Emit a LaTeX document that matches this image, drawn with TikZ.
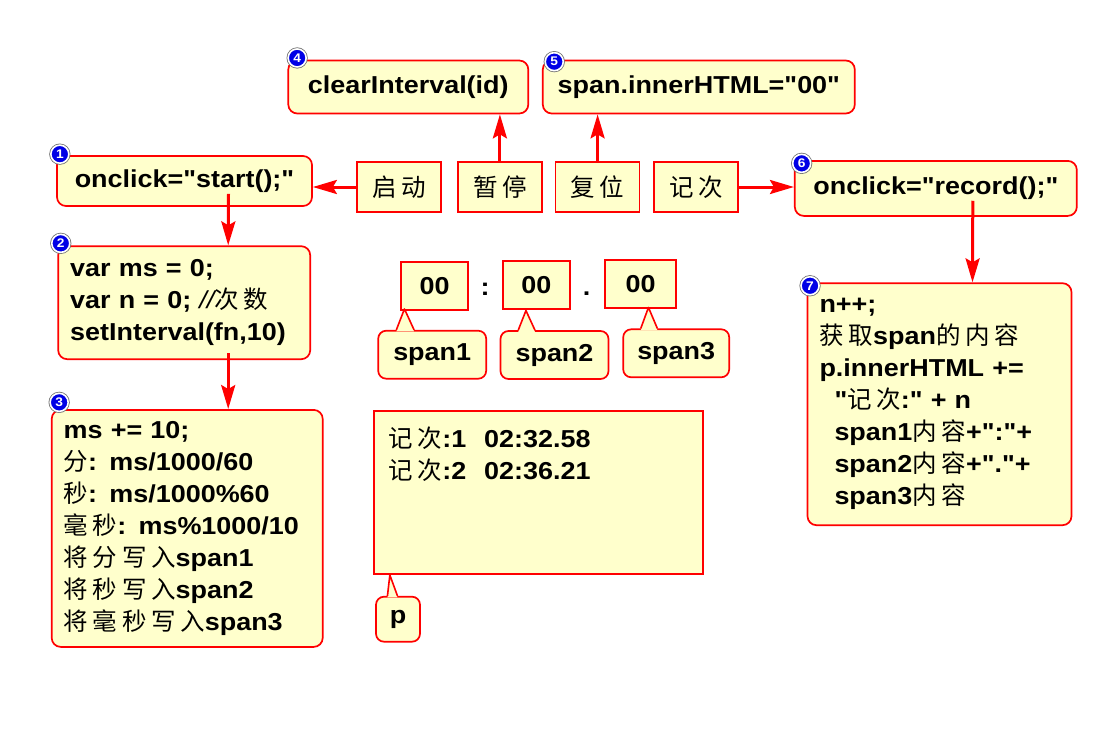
\documentclass[tikz,border=0pt]{standalone}
\usepackage{fontspec}
\newfontfamily\lat[FakeStretch=1.1]{Liberation Sans}
\newfontfamily\cjk[Scale=1.0,LetterSpace=19]{Noto Sans CJK SC}
\usetikzlibrary{positioning}
\usetikzlibrary{arrows.meta}
\usetikzlibrary{calc}

\definecolor{memo}{RGB}{255,255,204}
\definecolor{pin}{RGB}{0,0,230}

\newcommand{\zh}[1]{{\cjk\mdseries #1}}
% pointer of a speech tag: tag node, base from/to, tip
\newcommand{\tagptr}[4]{%
  \fill[memo] ([shift={(#2,1.6)}]#1.north west) -- (#4) -- ([shift={(#3,1.6)}]#1.north west) -- cycle;
  \draw[red, line width=1.6pt, line join=round] ([shift={(#2,0)}]#1.north west) -- (#4) -- ([shift={(#3,0)}]#1.north west);}

\begin{document}
\begin{tikzpicture}[x=1pt, y=-1pt,
    every node/.style={font=\fontsize{24.5}{32}\selectfont\lat\bfseries},
    note/.style={draw=red, line width=1.7pt, fill=memo, rounded corners=9pt, inner xsep=12pt},
    btn/.style={draw=red, line width=1.7pt, fill=memo, minimum width=84pt, minimum height=50pt, font=\fontsize{24.5}{32}\selectfont\cjk\mdseries},
    digit/.style={draw=red, line width=1.7pt, fill=memo, minimum width=67pt, minimum height=48pt},
    tag/.style={draw=red, line width=1.7pt, fill=memo, rounded corners=8pt, minimum height=48pt},
    badge/.style={circle, fill=pin, draw=white, line width=1.6pt, preaction={draw=black!55, line width=3.2pt}, inner sep=0pt, minimum size=18pt, text=white, font=\fontsize{12.5}{12.5}\selectfont\lat\bfseries},
    arr/.style={draw=red, line width=3pt, -{Stealth[length=24pt, width=14pt, inset=4pt]}}]
  \path[use as bounding box, fill=white] (0,0) rectangle (1097,728);

  % top row
  \node[note, minimum width=240pt, minimum height=53pt] (clr) at (408.3,87) {clearInterval(id)};
  \node[note, minimum width=312pt, minimum height=53pt] (rst) at (698.8,87) {span.innerHTML="00"};

  % buttons
  \node[btn] (go) at (399.2,187) {启动};
  \node[btn, right=15pt of go] (pause) {暂停};
  \node[btn, right=12pt of pause] (reset) {复位};
  \node[btn, right=13pt of reset] (count) {记次};

  % handlers
  \node[note, minimum width=255pt, minimum height=50pt] (start) at (184.5,181) {onclick="start();"};
  \node[note, minimum width=282pt, minimum height=55pt] (rec) at (935.8,188.4) {onclick="record();"};

  % code
  \node[note, minimum width=252pt, minimum height=113pt, text width=228pt, align=left] (init) at (184.2,302.7)
    {var ms = 0;\\var n = 0; {\mdseries\itshape //}\zh{次数}\\setInterval(fn,10)};
  \node[note, minimum width=271pt, minimum height=237pt, text width=247pt, align=left] (tick) at (187.2,528.4)
    {ms += 10;\\\zh{分}: ms/1000/60\\\zh{秒}: ms/1000\%60\\\zh{毫秒}: ms\%1000/10\\\zh{将分写入}span1\\\zh{将秒写入}span2\\\zh{将毫秒写入}span3};
  \node[note, minimum width=264pt, minimum height=242pt, text width=240pt, align=left] (log) at (939.5,404.2)
    {n++;\\\zh{获取}span\zh{的内容}\\p.innerHTML +=\\\hspace*{15pt}"\zh{记次}:" + n\\\hspace*{15pt}span1\zh{内容}+":"+\\\hspace*{15pt}span2\zh{内容}+"."+\\\hspace*{15pt}span3\zh{内容}};

  % clock display
  \node[digit] (d1) at (434.5,285.8) {00};
  \node[anchor=base] (colon) at (485,295) {:};
  \node[digit] (d2) at (536.3,285) {00};
  \node[anchor=base] (dot) at (586.7,295) {.};
  \node[digit, minimum width=71pt] (d3) at (640.5,284.2) {00};

  \node[tag, minimum width=108pt] (s1) at (432.2,354.7) {span1};
  \node[tag, minimum width=108pt] (s2) at (554.5,355) {span2};
  \node[tag, minimum width=106pt] (s3) at (676.2,353.3) {span3};
  \tagptr{s1}{19}{36.7}{[shift={(4.3,-1.7)}]d1.south west}
  \tagptr{s2}{18.6}{35.3}{[shift={(24,0.7)}]d2.south west}
  \tagptr{s3}{18.4}{35}{[shift={(44.3,-1.6)}]d3.south west}

  % record list
  \node[draw=red, line width=1.7pt, fill=memo, minimum width=329pt, minimum height=163pt] (pane) at (538.8,492.7) {};
  \node[anchor=north west, inner sep=0pt, align=left] (rows) at ([shift={(15,16)}]pane.north west)
    {\zh{记次}:1\hspace{18pt}02:32.58\\\zh{记次}:2\hspace{18pt}02:36.21};
  \node[tag, minimum width=44pt, minimum height=45pt, inner sep=0pt] (ptag) at (398,619.2) {p};
  \tagptr{ptag}{12.3}{22.3}{[shift={(16.4,0)}]pane.south west}

  % step numbers
  \node[badge] (n1) at ([shift={(3.7,-1)}]start.north west) {1};
  \node[badge] (n2) at ([shift={(3.4,-2)}]init.north west) {2};
  \node[badge] (n3) at ([shift={(8.3,-6.7)}]tick.north west) {3};
  \node[badge] (n4) at ([shift={(9.7,-1.7)}]clr.north west) {4};
  \node[badge] (n5) at ([shift={(12.3,2)}]rst.north west) {5};
  \node[badge] (n6) at ([shift={(7.7,3.3)}]rec.north west) {6};
  \node[badge] (n7) at ([shift={(3.4,3.4)}]log.north west) {7};

  % arrows
  \draw[arr] (go.west) -- (go.west -| start.east);
  \draw[arr] (pause.north) -- (pause.north |- clr.south);
  \draw[arr] (reset.north) -- (reset.north |- rst.south);
  \draw[arr] (count.east) -- (count.east -| rec.west);
  \draw[arr] ([shift={(44,-13)}]start.south) -- ([shift={(44,0)}]init.north);
  \draw[arr] ([shift={(44,-7)}]init.south) -- ([shift={(41,0)}]tick.north);
  \draw[arr] ([shift={(37,-16)}]rec.south) -- ([shift={(33,0)}]log.north);
\end{tikzpicture}
\end{document}
